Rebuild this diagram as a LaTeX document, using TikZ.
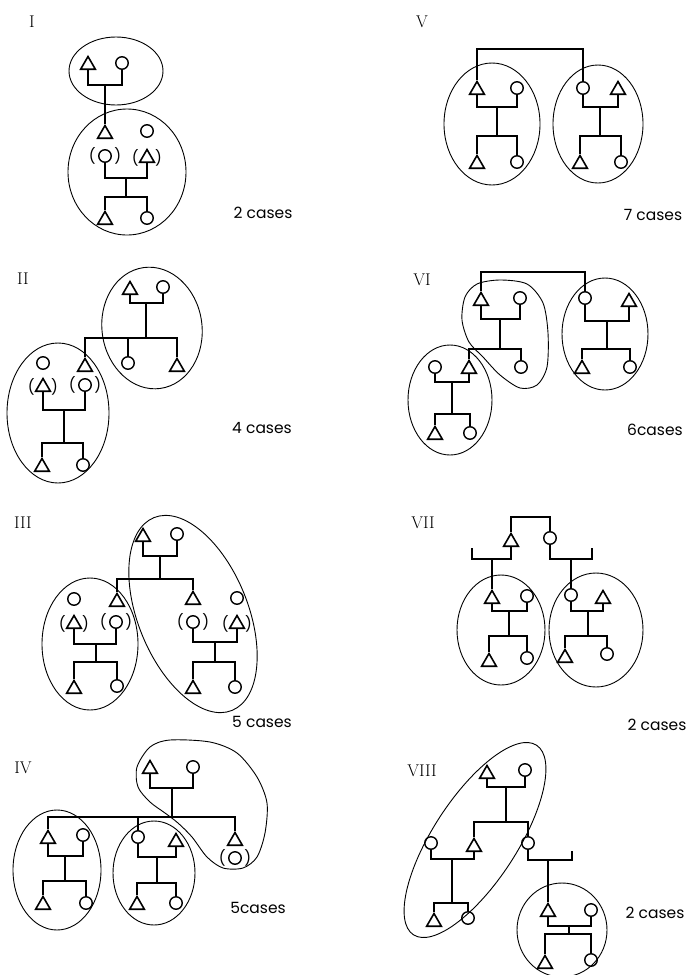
\documentclass[tikz,border=0pt]{standalone}
\usepackage{fontspec}
\setsansfont{Poppins}
\usepackage{tikz}
\usetikzlibrary{shapes.geometric,calc}

\tikzset{
    male/.style={draw, regular polygon, regular polygon sides=3, minimum size=17pt, inner sep=0pt, line width=1.6pt},
    female/.style={draw, circle, minimum size=12.5pt, inner sep=0pt, line width=1.4pt},
    pfont/.style={font=\sffamily\fontsize{15}{15}\selectfont, inner sep=0pt, label distance=2.2pt},
    paren/.style={label={[pfont]left:(}, label={[pfont]right:)}},
    kin/.style={line width=1.1pt},
    blob/.style={line width=0.9pt},
    cases/.style={font=\sffamily\fontsize{15.5}{15.5}\selectfont, inner sep=0pt},
    numeral/.style={font=\fontsize{17}{17}\selectfont, inner sep=0pt}
}

\begin{document}
\begin{tikzpicture}[x=1pt, y=-1pt]
    \useasboundingbox (0,0) rectangle (690,975);

    \node[numeral] (nI) at (32,22) {I};
    \node[male] (Ia) at (88,65) {};
    \node[female] (Ib) at (122,63) {};
    \node[male] (Ic) at (105,134) {};
    \node[female] (Id) at (147,131) {};
    \node[female, paren] (Ie) at (105,156) {};
    \node[male, paren] (If) at (147,158) {};
    \node[male] (Ig) at (105,220) {};
    \node[female] (Ih) at (147,218) {};
    \coordinate (Ij1) at (105,85);
    \coordinate (Ij2) at (126,178);
    \coordinate (Is2) at (126,197);
    \draw[kin] (Ia.south) |- (Ij1) -| (Ib.south);
    \draw[kin] (Ij1) -- (Ic.north);
    \draw[kin] (Ie.south) |- (Ij2) -| (If.south);
    \draw[kin] (Ij2) -- (Is2);
    \draw[kin] (Ig.north) |- (Is2) -| (Ih.north);
    \draw[blob] (116,71) ellipse [x radius=47, y radius=34];
    \draw[blob] (127,172) ellipse [x radius=59, y radius=63];
    \node[cases] (cI) at (263,213) {2 cases};

    \node[numeral] (nV) at (422,22) {V};
    \node[male] (Va) at (477,90) {};
    \node[female] (Vb) at (517,88) {};
    \node[male] (Vc) at (477,164) {};
    \node[female] (Vd) at (517,162) {};
    \node[female] (Ve) at (583,88) {};
    \node[male] (Vf) at (618,90) {};
    \node[male] (Vg) at (580,164) {};
    \node[female] (Vh) at (621,162) {};
    \coordinate (Vt) at (530,49);
    \coordinate (Vj1) at (497,107);
    \coordinate (Vs1) at (497,136);
    \coordinate (Vj2) at (600,107);
    \coordinate (Vs2) at (600,136);
    \draw[kin] (Va.north) |- (Vt) -| (Ve.north);
    \draw[kin] (Va.south) |- (Vj1) -| (Vb.south);
    \draw[kin] (Vj1) -- (Vs1);
    \draw[kin] (Vc.north) |- (Vs1) -| (Vd.north);
    \draw[kin] (Ve.south) |- (Vj2) -| (Vf.south);
    \draw[kin] (Vj2) -- (Vs2);
    \draw[kin] (Vg.north) |- (Vs2) -| (Vh.north);
    \draw[blob] (492,124) ellipse [x radius=48, y radius=61];
    \draw[blob] (598,124) ellipse [x radius=45, y radius=59];
    \node[cases] (cV) at (653,215) {7 cases};

    \node[numeral] (nII) at (23,279) {II};
    \node[male] (IIa) at (130,290) {};
    \node[female] (IIb) at (163,287) {};
    \node[male] (IIc) at (85,367) {};
    \node[female] (IId) at (128,363) {};
    \node[male] (IIe) at (177,367) {};
    \node[female] (IIf) at (43,363) {};
    \node[male, paren] (IIg) at (43,387) {};
    \node[female, paren] (IIh) at (85,385) {};
    \node[male] (IIk) at (42,467) {};
    \node[female] (IIl) at (83,465) {};
    \coordinate (IIj1) at (146,303);
    \coordinate (IIs1) at (146,338);
    \coordinate (IIj2) at (64,410);
    \coordinate (IIs2) at (64,443);
    \draw[kin] (IIa.south) |- (IIj1) -| (IIb.south);
    \draw[kin] (IIj1) -- (IIs1);
    \draw[kin] (IIc.north) |- (IIs1) -| (IIe.north);
    \draw[kin] (IId.north) -- (IId.north |- IIs1);
    \draw[kin] (IIg.south) |- (IIj2) -| (IIh.south);
    \draw[kin] (IIj2) -- (IIs2);
    \draw[kin] (IIk.north) |- (IIs2) -| (IIl.north);
    \draw[blob, shift={(152,328)}, rotate=8] (0,0) ellipse [x radius=50, y radius=61];
    \draw[blob] (58,413) ellipse [x radius=51, y radius=70];
    \node[cases] (cII) at (262,428) {4 cases};

    \node[numeral] (nVI) at (422,280) {VI};
    \node[male] (VIa) at (481,301) {};
    \node[female] (VIb) at (520,298) {};
    \node[male] (VIc) at (469,369) {};
    \node[female] (VId) at (521,367) {};
    \node[female] (VIe) at (585,298) {};
    \node[male] (VIf) at (629,302) {};
    \node[female] (VIg) at (435,367) {};
    \node[male] (VIh) at (435,435) {};
    \node[female] (VIk) at (470,433) {};
    \node[male] (VIl) at (582,369) {};
    \node[female] (VIm) at (630,367) {};
    \coordinate (VIt) at (533,272);
    \coordinate (VIj1) at (500,319);
    \coordinate (VIs1) at (500,349);
    \coordinate (VIj2) at (452,382);
    \coordinate (VIs2) at (452,414);
    \coordinate (VIj3) at (607,321);
    \coordinate (VIs3) at (607,349);
    \draw[kin] (VIa.north) |- (VIt) -| (VIe.north);
    \draw[kin] (VIa.south) |- (VIj1) -| (VIb.south);
    \draw[kin] (VIj1) -- (VIs1);
    \draw[kin] (VIc.north) |- (VIs1) -| (VId.north);
    \draw[kin] (VIg.south) |- (VIj2) -| (VIc.south);
    \draw[kin] (VIj2) -- (VIs2);
    \draw[kin] (VIh.north) |- (VIs2) -| (VIk.north);
    \draw[kin] (VIe.south) |- (VIj3) -| (VIf.south);
    \draw[kin] (VIj3) -- (VIs3);
    \draw[kin] (VIl.north) |- (VIs3) -| (VIm.north);
    \draw[blob] plot[smooth cycle] coordinates {(477,284) (500,280) (527,284) (543,303) (548,333) (547,367) (537,385) (520,388) (500,375) (483,357) (469,342) (462,320) (465,297)};
    \draw[blob] (450,400) ellipse [x radius=42, y radius=55];
    \draw[blob] (605,334) ellipse [x radius=43, y radius=56];
    \node[cases] (cVI) at (655,430) {6cases};

    \node[numeral] (nIII) at (23,523) {III};
    \node[male] (IIIa) at (143,537) {};
    \node[female] (IIIb) at (177,534) {};
    \node[male] (IIIc) at (117,602) {};
    \node[male] (IIId) at (193,600) {};
    \node[female] (IIIe) at (74,599) {};
    \node[male, paren] (IIIf) at (74,624) {};
    \node[female, paren] (IIIg) at (116,622) {};
    \node[male] (IIIh) at (74,689) {};
    \node[female] (IIIk) at (117,686) {};
    \node[female] (IIIl) at (237,598) {};
    \node[female, paren] (IIIm) at (193,622) {};
    \node[male, paren] (IIIn) at (237,624) {};
    \node[male] (IIIp) at (193,689) {};
    \node[female] (IIIq) at (235,687) {};
    \coordinate (IIIj1) at (160,556);
    \coordinate (IIIs1) at (160,579);
    \coordinate (IIIj2) at (96,644);
    \coordinate (IIIs2) at (96,662);
    \coordinate (IIIj3) at (215,642);
    \coordinate (IIIs3) at (215,662);
    \draw[kin] (IIIa.south) |- (IIIj1) -| (IIIb.south);
    \draw[kin] (IIIj1) -- (IIIs1);
    \draw[kin] (IIIc.north) |- (IIIs1) -| (IIId.north);
    \draw[kin] (IIIf.south) |- (IIIj2) -| (IIIg.south);
    \draw[kin] (IIIj2) -- (IIIs2);
    \draw[kin] (IIIh.north) |- (IIIs2) -| (IIIk.north);
    \draw[kin] (IIIm.south) |- (IIIj3) -| (IIIn.south);
    \draw[kin] (IIIj3) -- (IIIs3);
    \draw[kin] (IIIp.north) |- (IIIs3) -| (IIIq.north);
    \draw[blob] (90,644) ellipse [x radius=48, y radius=66];
    \draw[blob, shift={(193,614)}, rotate=22] (0,0) ellipse [x radius=55, y radius=104];
    \node[cases] (cIII) at (262,722) {5 cases};

    \node[numeral] (nVII) at (423,523) {VII};
    \node[male] (VIIa) at (511,542) {};
    \node[female] (VIIb) at (550,538) {};
    \node[male] (VIIc) at (492,599) {};
    \node[female] (VIId) at (571,595) {};
    \node[female] (VIIe) at (527,596) {};
    \node[male] (VIIf) at (489,662) {};
    \node[female] (VIIg) at (527,658) {};
    \node[male] (VIIh) at (603,599) {};
    \node[male] (VIIk) at (565,658) {};
    \node[female] (VIIl) at (607,654) {};
    \coordinate (VIIt) at (530,517);
    \coordinate (VIIu1) at (472,548);
    \coordinate (VIIj1) at (492,559);
    \coordinate (VIIj2) at (571,559);
    \coordinate (VIIu2) at (592,548);
    \coordinate (VIIj3) at (509,611);
    \coordinate (VIIs3) at (509,636);
    \coordinate (VIIj4) at (588,611);
    \coordinate (VIIs4) at (588,636);
    \draw[kin] (VIIa.north) |- (VIIt) -| (VIIb.north);
    \draw[kin] (VIIu1) |- (VIIj1) -| (VIIa.south);
    \draw[kin] (VIIj1) -- (VIIc.north);
    \draw[kin] (VIIb.south) |- (VIIj2) -| (VIIu2);
    \draw[kin] (VIIj2) -- (VIId.north);
    \draw[kin] (VIIc.south) |- (VIIj3) -| (VIIe.south);
    \draw[kin] (VIIj3) -- (VIIs3);
    \draw[kin] (VIIf.north) |- (VIIs3) -| (VIIg.north);
    \draw[kin] (VIId.south) |- (VIIj4) -| (VIIh.south);
    \draw[kin] (VIIj4) -- (VIIs4);
    \draw[kin] (VIIk.north) |- (VIIs4) -| (VIIl.north);
    \draw[blob] (501,630) ellipse [x radius=44, y radius=55];
    \draw[blob] (596,630) ellipse [x radius=47, y radius=57];
    \node[cases] (cVII) at (657,725) {2 cases};

    \node[numeral] (nIV) at (23,768) {IV};
    \node[male] (IVa) at (150,769) {};
    \node[female] (IVb) at (193,767) {};
    \node[male] (IVc) at (48,839) {};
    \node[female] (IVd) at (138,837) {};
    \node[male] (IVe) at (235,841) {};
    \node[female, paren] (IVf) at (235,858) {};
    \node[female] (IVg) at (83,835) {};
    \node[male] (IVh) at (43,905) {};
    \node[female] (IVk) at (86,903) {};
    \node[male] (IVl) at (176,842) {};
    \node[male] (IVm) at (137,905) {};
    \node[female] (IVn) at (176,903) {};
    \coordinate (IVj1) at (172,788);
    \coordinate (IVs1) at (172,817);
    \coordinate (IVj2) at (65,856);
    \coordinate (IVs2) at (65,881);
    \coordinate (IVj3) at (157,857);
    \coordinate (IVs3) at (157,883);
    \draw[kin] (IVa.south) |- (IVj1) -| (IVb.south);
    \draw[kin] (IVj1) -- (IVs1);
    \draw[kin] (IVc.north) |- (IVs1) -| (IVe.north);
    \draw[kin] (IVd.north) -- (IVd.north |- IVs1);
    \draw[kin] (IVc.south) |- (IVj2) -| (IVg.south);
    \draw[kin] (IVj2) -- (IVs2);
    \draw[kin] (IVh.north) |- (IVs2) -| (IVk.north);
    \draw[kin] (IVd.south) |- (IVj3) -| (IVl.south);
    \draw[kin] (IVj3) -- (IVs3);
    \draw[kin] (IVm.north) |- (IVs3) -| (IVn.north);
    \draw[blob] plot[smooth cycle] coordinates {(137,767) (150,747) (170,740) (210,742) (237,753) (257,777) (267,803) (265,833) (257,857) (243,868) (223,868) (207,857) (192,837) (178,823) (165,813) (150,802) (138,787)};
    \draw[blob] (57,870) ellipse [x radius=44, y radius=60];
    \draw[blob] (154,873) ellipse [x radius=41, y radius=52];
    \node[cases] (cIV) at (258,908) {5cases};

    \node[numeral] (nVIII) at (422,771) {VIII};
    \node[male] (VIIIa) at (487,774) {};
    \node[female] (VIIIb) at (525,770) {};
    \node[male] (VIIIc) at (474,847) {};
    \node[female] (VIIId) at (528,843) {};
    \node[female] (VIIIe) at (431,843) {};
    \node[male] (VIIIf) at (434,922) {};
    \node[female] (VIIIg) at (468,918) {};
    \node[male] (VIIIh) at (548,912) {};
    \node[female] (VIIIk) at (591,910) {};
    \node[male] (VIIIl) at (545,964) {};
    \node[female] (VIIIm) at (591,960) {};
    \coordinate (VIIIj1) at (506,787);
    \coordinate (VIIIs1) at (506,822);
    \coordinate (VIIIj2) at (452,859);
    \coordinate (VIIIs2) at (452,903);
    \coordinate (VIIIj3) at (548,860);
    \coordinate (VIIIu3) at (572,851);
    \coordinate (VIIIj4) at (569,926);
    \coordinate (VIIIs4) at (569,934);
    \draw[kin] (VIIIa.south) |- (VIIIj1) -| (VIIIb.south);
    \draw[kin] (VIIIj1) -- (VIIIs1);
    \draw[kin] (VIIIc.north) |- (VIIIs1) -| (VIIId.north);
    \draw[kin] (VIIIe.south) |- (VIIIj2) -| (VIIIc.south);
    \draw[kin] (VIIIj2) -- (VIIIs2);
    \draw[kin] (VIIIf.north) |- (VIIIs2) -| (VIIIg.north);
    \draw[kin] (VIIId.south) |- (VIIIj3) -| (VIIIu3);
    \draw[kin] (VIIIj3) -- (VIIIh.north);
    \draw[kin] (VIIIh.south) |- (VIIIj4) -| (VIIIk.south);
    \draw[kin] (VIIIj4) -- (VIIIs4);
    \draw[kin] (VIIIl.north) |- (VIIIs4) -| (VIIIm.north);
    \draw[blob, shift={(475,840)}, rotate=-33] (0,0) ellipse [x radius=42, y radius=113];
    \draw[blob] (562,930) ellipse [x radius=45, y radius=47];
    \node[cases] (cVIII) at (655,913) {2 cases};
\end{tikzpicture}
\end{document}
